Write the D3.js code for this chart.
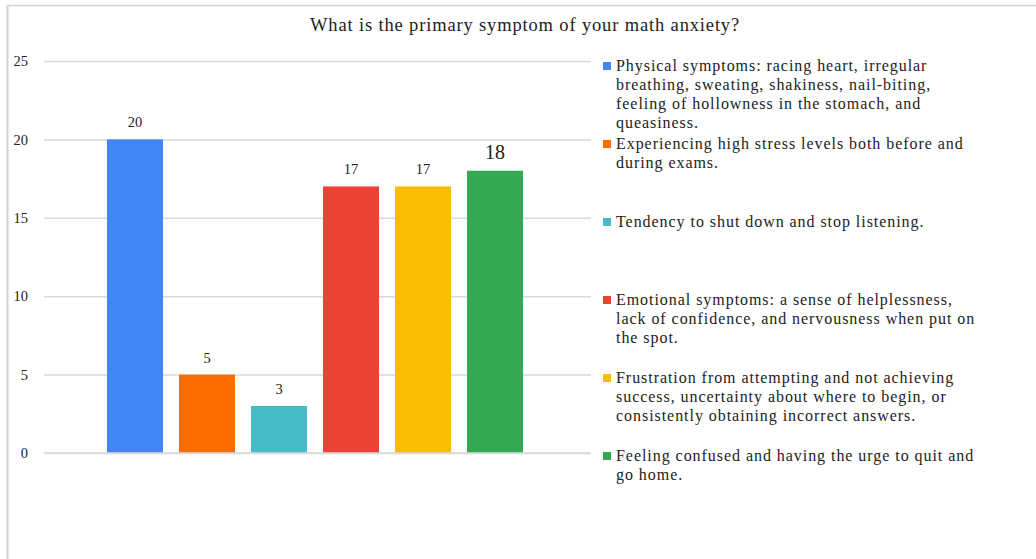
<!DOCTYPE html>
<html>
<head>
<meta charset="utf-8">
<script src="https://cdn.jsdelivr.net/npm/d3@7"></script>
<style>
  html, body { margin: 0; padding: 0; background: #fff; }
  svg { display: block; font-family: "Liberation Serif", "Times New Roman", serif; }
</style>
</head>
<body>
<svg id="chart" width="1036" height="559"></svg>
<script>
// Survey responses: primary symptom of math anxiety
const categories = [
  "Physical symptoms: racing heart, irregular breathing, sweating, shakiness, nail-biting, feeling of hollowness in the stomach, and queasiness.",
  "Experiencing high stress levels both before and during exams.",
  "Tendency to shut down and stop listening.",
  "Emotional symptoms: a sense of helplessness, lack of confidence, and nervousness when put on the spot.",
  "Frustration from attempting and not achieving success, uncertainty about where to begin, or consistently obtaining incorrect answers.",
  "Feeling confused and having the urge to quit and go home."
];
const legendLines = [
  ["Physical symptoms: racing heart, irregular", "breathing, sweating, shakiness, nail-biting,", "feeling of hollowness in the stomach, and", "queasiness."],
  ["Experiencing high stress levels both before and", "during exams."],
  ["Tendency to shut down and stop listening."],
  ["Emotional symptoms: a sense of helplessness,", "lack of confidence, and nervousness when put on", "the spot."],
  ["Frustration from attempting and not achieving", "success, uncertainty about where to begin, or", "consistently obtaining incorrect answers."],
  ["Feeling confused and having the urge to quit and", "go home."]
];
const counts = [20, 5, 3, 17, 17, 18];
const colors = ["#4285F4", "#FF6D01", "#46BDC6", "#EA4335", "#FBBC04", "#34A853"];
const yTicks = [0, 5, 10, 15, 20, 25];
const title = "What is the primary symptom of your math anxiety?";

const svg = d3.select("#chart");

// outer frame edges
svg.append("line").attr("x1", 7).attr("x2", 1036).attr("y1", 5.5).attr("y2", 5.5)
  .attr("stroke", "#d4d4d4").attr("stroke-width", 1.5);
svg.append("line").attr("x1", 7.5).attr("x2", 7.5).attr("y1", 5).attr("y2", 559)
  .attr("stroke", "#d4d4d4").attr("stroke-width", 2);

svg.append("text")
  .attr("x", 525).attr("y", 31)
  .attr("text-anchor", "middle")
  .attr("font-size", 18.5)
  .attr("letter-spacing", 0.85)
  .attr("fill", "#222")
  .text(title);

const y = d3.scaleLinear().domain([0, 25]).range([453, 61]);
const x = d3.scaleBand().domain(d3.range(categories.length))
  .range([99, 531]).paddingInner(0.222).paddingOuter(0.111);

const gridX0 = 44, gridX1 = 591;

// horizontal gridlines and tick labels
const yAxis = d3.axisLeft(y).tickValues(yTicks).tickSize(-(gridX1 - gridX0)).tickPadding(16);
const ga = svg.append("g").attr("transform", `translate(${gridX0},0)`).call(yAxis);
ga.select(".domain").remove();
ga.selectAll(".tick line").attr("stroke", "#d9d9d9").attr("stroke-width", 1.5);
ga.selectAll(".tick text")
  .attr("font-family", "Liberation Serif, serif")
  .attr("font-size", 14.5).attr("fill", "#222");

// bars
svg.append("g").selectAll("rect").data(counts).join("rect")
  .attr("x", (d, i) => x(i))
  .attr("width", x.bandwidth())
  .attr("y", d => y(d))
  .attr("height", d => y(0) - y(d))
  .attr("fill", (d, i) => colors[i]);

// redraw zero line over bars
svg.append("line").attr("x1", gridX0).attr("x2", gridX1)
  .attr("y1", y(0)).attr("y2", y(0)).attr("stroke", "#d9d9d9").attr("stroke-width", 1.5);

// value labels
svg.append("g").selectAll("text").data(counts).join("text")
  .attr("x", (d, i) => x(i) + x.bandwidth() / 2)
  .attr("y", d => y(d) - 12)
  .attr("text-anchor", "middle")
  .attr("font-size", (d, i) => i === 5 ? 20 : 14.5)
  .attr("fill", "#222")
  .text(d => d);

// legend
const lg = svg.append("g");
const lineH = 18.9;
legendLines.forEach((lines, i) => {
  const cy = 66.5 + i * 78;
  lg.append("rect").attr("x", 603).attr("y", cy - 4.5).attr("width", 8).attr("height", 8)
    .attr("fill", colors[i]);
  const t = lg.append("text").attr("font-size", 16).attr("letter-spacing", 0.95).attr("fill", "#222");
  lines.forEach((ln, j) => {
    t.append("tspan").attr("x", 616).attr("y", cy + 4.5 + j * lineH).text(ln);
  });
});
</script>
</body>
</html>
